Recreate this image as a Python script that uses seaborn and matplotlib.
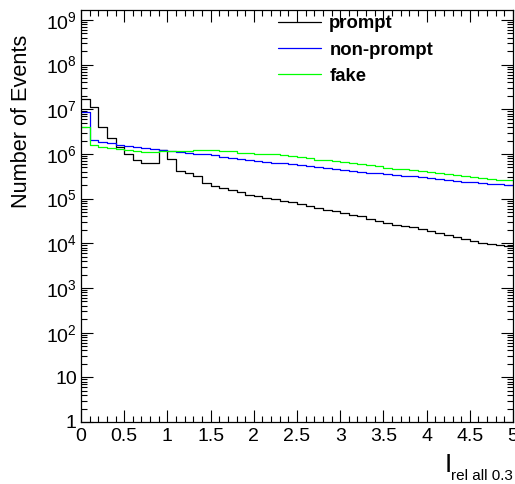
import numpy as np
import pandas as pd
import matplotlib
matplotlib.use("Agg")
import matplotlib.pyplot as plt
import seaborn as sns
from matplotlib.ticker import MultipleLocator, LogLocator, FuncFormatter, NullFormatter
from matplotlib.lines import Line2D

# ---- data: 50 bins of width 0.1 on [0, 5] ----
bin_low = 0.0
bin_high = 5.0
bin_width = 0.1
n_bins = 50

prompt = [1.66e7, 1.13e7, 4.04e6, 2.32e6, 1.46e6, 1.02e6, 7.3e5, 6.3e5, 6.3e5, 1.22e6,
          7.9e5, 4.19e5, 3.78e5, 3.19e5, 2.28e5, 1.92e5, 1.72e5, 1.53e5, 1.38e5, 1.22e5,
          1.14e5, 1.03e5, 9.6e4, 8.7e4, 8.2e4, 7.65e4, 6.9e4, 6.1e4, 5.7e4, 5.25e4,
          4.74e4, 4.34e4, 4.0e4, 3.53e4, 3.19e4, 2.88e4, 2.55e4, 2.43e4, 2.27e4, 2.05e4,
          1.85e4, 1.67e4, 1.5e4, 1.36e4, 1.22e4, 1.12e4, 1.03e4, 9.6e3, 8.97e3, 8.65e3]

non_prompt = [8.75e6, 2.04e6, 1.81e6, 1.72e6, 1.57e6, 1.49e6, 1.42e6, 1.35e6, 1.28e6, 1.22e6,
              1.16e6, 1.10e6, 1.03e6, 9.9e5, 9.75e5, 9.25e5, 8.6e5, 8.2e5, 7.77e5, 7.27e5,
              6.9e5, 6.66e5, 6.32e5, 6.16e5, 6.0e5, 5.71e5, 5.33e5, 4.99e5, 4.86e5, 4.64e5,
              4.34e5, 4.12e5, 3.92e5, 3.78e5, 3.66e5, 3.48e5, 3.36e5, 3.27e5, 3.14e5, 3.03e5,
              2.88e5, 2.77e5, 2.59e5, 2.46e5, 2.38e5, 2.30e5, 2.22e5, 2.14e5, 2.11e5, 2.04e5]

fake = [4.04e6, 1.57e6, 1.44e6, 1.35e6, 1.28e6, 1.20e6, 1.14e6, 1.10e6, 1.10e6, 1.16e6,
        1.16e6, 1.17e6, 1.17e6, 1.24e6, 1.24e6, 1.24e6, 1.14e6, 1.14e6, 1.06e6, 1.06e6,
        1.005e6, 9.75e5, 9.75e5, 9.25e5, 8.93e5, 8.48e5, 7.93e5, 7.38e5, 7.38e5, 6.9e5,
        6.45e5, 6.13e5, 5.82e5, 5.53e5, 5.25e5, 4.89e5, 4.64e5, 4.5e5, 4.45e5, 4.19e5,
        3.92e5, 3.66e5, 3.53e5, 3.30e5, 3.14e5, 2.98e5, 2.88e5, 2.77e5, 2.64e5, 2.55e5]

series_names = ["prompt", "non-prompt", "fake"]
series_values = [prompt, non_prompt, fake]
series_colors = ["#000000", "#0000ff", "#00ff00"]

x_tick_values = [0, 0.5, 1, 1.5, 2, 2.5, 3, 3.5, 4, 4.5, 5]
x_tick_labels = ["0", "0.5", "1", "1.5", "2", "2.5", "3", "3.5", "4", "4.5", "5"]

# ---- style ----
sns.set_style("ticks")
plt.rcParams["font.family"] = ["Liberation Sans", "DejaVu Sans"]
plt.rcParams["mathtext.fontset"] = "custom"
plt.rcParams["mathtext.rm"] = "Liberation Sans"
plt.rcParams["mathtext.it"] = "Liberation Sans:italic"
plt.rcParams["mathtext.bf"] = "Liberation Sans:bold"
plt.rcParams["axes.linewidth"] = 0.9
plt.rcParams["text.color"] = "black"
plt.rcParams["axes.labelcolor"] = "black"
plt.rcParams["xtick.color"] = "black"
plt.rcParams["ytick.color"] = "black"
plt.rcParams["axes.edgecolor"] = "black"

W, H = 515, 484
fig = plt.figure(figsize=(W / 100, H / 100), dpi=100)
ax = fig.add_axes([81 / W, 1 - 422 / H, (513 - 81) / W, (422 - 10) / H])

centers = [bin_low + bin_width * (i + 0.5) for i in range(n_bins)]

rows = []
for name, vals in zip(series_names, series_values):
    for c, v in zip(centers, vals):
        rows.append({"x": c, "w": v, "series": name})
df = pd.DataFrame(rows)

for name, col in zip(series_names, series_colors):
    sub = df[df["series"] == name]
    sns.histplot(data=sub, x="x", weights="w", binwidth=bin_width,
                 binrange=(bin_low, bin_high), element="step",
                 fill=False, color=col, linewidth=0.9, ax=ax)

ax.set_yscale("log")
ax.set_xlim(bin_low, bin_high)
ax.set_ylim(1, 1.67e9)
ax.set_xlabel("")
ax.set_ylabel("")

ax.set_xticks(x_tick_values)
ax.set_xticklabels(x_tick_labels)
ax.xaxis.set_minor_locator(MultipleLocator(0.1))
ax.yaxis.set_major_locator(LogLocator(base=10, numticks=20))
ax.yaxis.set_minor_locator(LogLocator(base=10, subs=np.arange(2, 10), numticks=20))
ax.yaxis.set_minor_formatter(NullFormatter())

def yfmt(v, pos):
    e = int(round(np.log10(v)))
    if e == 0:
        return "1"
    if e == 1:
        return "10"
    return r"$\mathregular{10^{%d}}$" % e

ax.yaxis.set_major_formatter(FuncFormatter(yfmt))

ax.tick_params(which="both", direction="in", top=True, right=True, width=0.8,
               labelsize=14, colors="black")
ax.tick_params(which="major", length=8.5)
ax.tick_params(which="minor", length=4.3)
ax.tick_params(axis="x", which="major", pad=4)
ax.tick_params(axis="y", which="major", pad=3)
for s in ax.spines.values():
    s.set_color("black")
    s.set_visible(True)

fig.text(22 / W, 1 - 35 / H, "Number of Events", rotation=90, ha="center", va="top",
         fontsize=15.7, color="black")
fig.text(452 / W, 1 - 472 / H, "I", ha="right", va="baseline", fontsize=19,
         color="black")
fig.text(513 / W, 1 - 480 / H, "rel all 0.3", ha="right", va="baseline", fontsize=11,
         color="black")

handles = [Line2D([], [], color=c, lw=0.9) for c in series_colors]
leg = ax.legend(handles, series_names, loc="upper left", bbox_to_anchor=(0.44, 1.005),
                frameon=False, prop={"weight": "bold", "size": 13.3},
                handlelength=2.3, handletextpad=0.45, labelspacing=0.5,
                borderaxespad=0.0, labelcolor="black")

fig.savefig("out.png", dpi=100)
